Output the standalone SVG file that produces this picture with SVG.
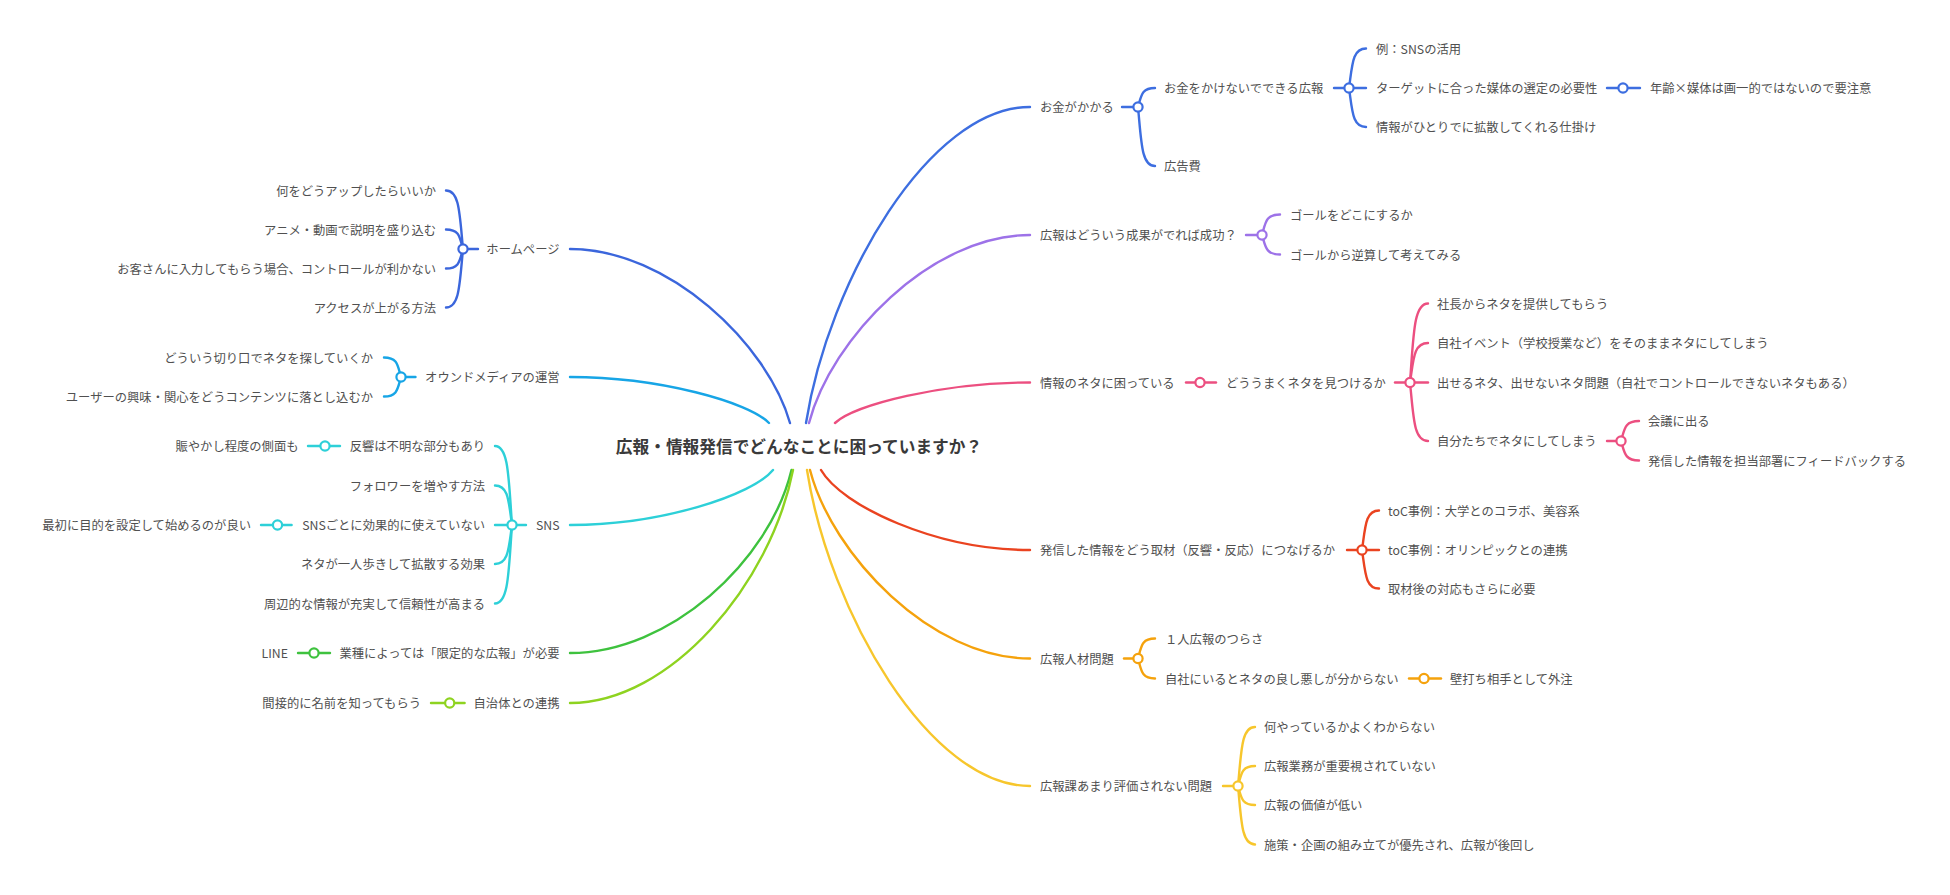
<svg xmlns="http://www.w3.org/2000/svg" width="1950" height="895" viewBox="0 0 1950 895">
<style>
text{font-family:"Noto Sans CJK JP","Noto Sans",sans-serif;font-size:12.3px;fill:#505050;dominant-baseline:central}
.l{text-anchor:end}
.title{font-size:16.7px;font-weight:bold;fill:#3a3a3a;text-anchor:middle}
path{fill:none;stroke-width:2.4;stroke-linecap:round}
circle{fill:#fff;stroke-width:2.2}
.blue{stroke:#3d6ee0}.purple{stroke:#9d72e8}.pink{stroke:#ec4f80}.red{stroke:#ea4320}.orange{stroke:#f5a20c}.yellow{stroke:#f7c62c}
.hblue{stroke:#3b66dc}.sky{stroke:#17a5e6}.cyan{stroke:#2dd0d8}.green{stroke:#3ec23e}.lime{stroke:#8ed320}
</style>
<rect width="1950" height="895" fill="#fff"/>
<g id="connectors">
<!-- main branches -->
<path class="blue" d="M806 423 C828.4 280.8 929.2 107 1030 107"/>
<path class="purple" d="M809 423 C831.1 338.4 930.6 235 1030 235"/>
<path class="pink" d="M835 423 C854.5 404.8 942.3 382.5 1030 382.5"/>
<path class="red" d="M821 470 C841.9 506 936 550 1030 550"/>
<path class="orange" d="M810 470 C832 554.8 931 658.5 1030 658.5"/>
<path class="yellow" d="M807 470 C829.3 612.2 929.7 786 1030 786"/>
<path class="hblue" d="M790 423 C768 344.7 669 249 570 249"/>
<path class="sky" d="M769 423 C749.1 402.3 659.6 377 570 377"/>
<path class="cyan" d="M773 470 C752.7 495 661.4 525 570 525"/>
<path class="green" d="M791.5 470 C769.4 561.5 669.7 653 570 653"/>
<path class="lime" d="M793 470 C770.7 584 670.4 703 570 703"/>
<!-- A -->
<path class="blue" d="M1122 107 H1138"/>
<path class="blue" d="M1138 107 C1141.4 95.6 1141.4 88 1155 88"/>
<path class="blue" d="M1138 107 C1141.4 142.4 1141.4 166 1155 166"/>
<path class="blue" d="M1334 88 H1349"/>
<path class="blue" d="M1349 88 C1352.4 64.3 1352.4 48.5 1366 48.5"/>
<path class="blue" d="M1349 88 H1366"/>
<path class="blue" d="M1349 88 C1352.4 111.4 1352.4 127 1366 127"/>
<path class="blue" d="M1607 88 H1640"/>
<!-- B -->
<path class="purple" d="M1246 235 H1262"/>
<path class="purple" d="M1262 235 C1265.6 222.7 1265.6 214.5 1280 214.5"/>
<path class="purple" d="M1262 235 C1265.6 246.7 1265.6 254.5 1280 254.5"/>
<!-- C -->
<path class="pink" d="M1186 382.5 H1216"/>
<path class="pink" d="M1395 382.5 H1410"/>
<path class="pink" d="M1410 382.5 C1413.6 335.1 1413.6 303.5 1428 303.5"/>
<path class="pink" d="M1410 382.5 C1413.6 358.8 1413.6 343 1428 343"/>
<path class="pink" d="M1410 382.5 H1428"/>
<path class="pink" d="M1410 382.5 C1413.6 417.6 1413.6 441 1428 441"/>
<path class="pink" d="M1607 441 H1621"/>
<path class="pink" d="M1621 441 C1624.6 429 1624.6 421 1639 421"/>
<path class="pink" d="M1621 441 C1624.6 452.7 1624.6 460.5 1639 460.5"/>
<!-- D -->
<path class="red" d="M1347 550 H1362"/>
<path class="red" d="M1362 550 C1365.4 526.3 1365.4 510.5 1379 510.5"/>
<path class="red" d="M1362 550 H1379"/>
<path class="red" d="M1362 550 C1365.4 573.1 1365.4 588.5 1379 588.5"/>
<!-- E -->
<path class="orange" d="M1124 658.5 H1138"/>
<path class="orange" d="M1138 658.5 C1141.4 646.5 1141.4 638.5 1155 638.5"/>
<path class="orange" d="M1138 658.5 C1141.4 670.5 1141.4 678.5 1155 678.5"/>
<path class="orange" d="M1409 678.5 H1441"/>
<!-- F -->
<path class="yellow" d="M1223 786 H1238"/>
<path class="yellow" d="M1238 786 C1241.4 750.6 1241.4 727 1255 727"/>
<path class="yellow" d="M1238 786 C1241.4 774 1241.4 766 1255 766"/>
<path class="yellow" d="M1238 786 C1241.4 797.4 1241.4 805 1255 805"/>
<path class="yellow" d="M1238 786 C1241.4 820.9 1241.4 844.5 1255 844.5"/>
<!-- G -->
<path class="hblue" d="M478 249 H463"/>
<path class="hblue" d="M463 249 C459.6 213.9 459.6 190.5 446 190.5"/>
<path class="hblue" d="M463 249 C459.6 237.3 459.6 229.5 446 229.5"/>
<path class="hblue" d="M463 249 C459.6 260.7 459.6 268.5 446 268.5"/>
<path class="hblue" d="M463 249 C459.6 284.1 459.6 307.5 446 307.5"/>
<!-- H -->
<path class="sky" d="M415.5 377 H401"/>
<path class="sky" d="M401 377 C397.6 365.3 397.6 357.5 384 357.5"/>
<path class="sky" d="M401 377 C397.6 388.7 397.6 396.5 384 396.5"/>
<!-- I -->
<path class="cyan" d="M526 525 H512"/>
<path class="cyan" d="M512 525 C508.6 477.6 508.6 446 495 446"/>
<path class="cyan" d="M512 525 C508.6 501.3 508.6 485.5 495 485.5"/>
<path class="cyan" d="M512 525 H495"/>
<path class="cyan" d="M512 525 C508.6 548.4 508.6 564 495 564"/>
<path class="cyan" d="M512 525 C508.6 572.1 508.6 603.5 495 603.5"/>
<path class="cyan" d="M340 446 H308"/>
<path class="cyan" d="M291.6 525 H261"/>
<!-- J, K -->
<path class="green" d="M330 653 H298"/>
<path class="lime" d="M464.6 703 H431"/>
</g>
<g id="center"><text class="title" x="799" y="446">広報・情報発信でどんなことに困っていますか？</text></g>
<g id="n-okane"><circle class="blue" cx="1138" cy="107" r="4.6"/><text x="1040" y="107">お金がかかる</text></g>
<g id="n-okane-1"><circle class="blue" cx="1349" cy="88" r="4.6"/><text x="1164" y="88">お金をかけないでできる広報</text></g>
<g id="n-okane-1a"><text x="1376" y="48.5">例：SNSの活用</text></g>
<g id="n-okane-1b"><circle class="blue" cx="1623" cy="88" r="4.6"/><text x="1376" y="88">ターゲットに合った媒体の選定の必要性</text></g>
<g id="n-okane-1b1"><text x="1650" y="88">年齢×媒体は画一的ではないので要注意</text></g>
<g id="n-okane-1c"><text x="1376" y="127">情報がひとりでに拡散してくれる仕掛け</text></g>
<g id="n-okane-2"><text x="1164" y="166">広告費</text></g>
<g id="n-seika"><circle class="purple" cx="1262" cy="235" r="4.6"/><text x="1040" y="235">広報はどういう成果がでれば成功？</text></g>
<g id="n-seika-1"><text x="1290" y="214.5">ゴールをどこにするか</text></g>
<g id="n-seika-2"><text x="1290" y="254.5">ゴールから逆算して考えてみる</text></g>
<g id="n-neta"><circle class="pink" cx="1200" cy="382.5" r="4.6"/><text x="1040" y="382.5">情報のネタに困っている</text></g>
<g id="n-neta-1"><circle class="pink" cx="1410" cy="382.5" r="4.6"/><text x="1226" y="382.5">どううまくネタを見つけるか</text></g>
<g id="n-neta-1a"><text x="1437" y="303.5">社長からネタを提供してもらう</text></g>
<g id="n-neta-1b"><text x="1437" y="343">自社イベント（学校授業など）をそのままネタにしてしまう</text></g>
<g id="n-neta-1c"><text x="1437" y="382.5">出せるネタ、出せないネタ問題（自社でコントロールできないネタもある）</text></g>
<g id="n-neta-1d"><circle class="pink" cx="1621" cy="441" r="4.6"/><text x="1437" y="441">自分たちでネタにしてしまう</text></g>
<g id="n-neta-1d1"><text x="1648" y="421">会議に出る</text></g>
<g id="n-neta-1d2"><text x="1648" y="460.5">発信した情報を担当部署にフィードバックする</text></g>
<g id="n-shuzai"><circle class="red" cx="1362" cy="550" r="4.6"/><text x="1040" y="550">発信した情報をどう取材（反響・反応）につなげるか</text></g>
<g id="n-shuzai-1"><text x="1388" y="510.5">toC事例：大学とのコラボ、美容系</text></g>
<g id="n-shuzai-2"><text x="1388" y="550">toC事例：オリンピックとの連携</text></g>
<g id="n-shuzai-3"><text x="1388" y="588.5">取材後の対応もさらに必要</text></g>
<g id="n-jinzai"><circle class="orange" cx="1138" cy="658.5" r="4.6"/><text x="1040" y="658.5">広報人材問題</text></g>
<g id="n-jinzai-1"><text x="1165" y="638.5">１人広報のつらさ</text></g>
<g id="n-jinzai-2"><circle class="orange" cx="1424" cy="678.5" r="4.6"/><text x="1165" y="678.5">自社にいるとネタの良し悪しが分からない</text></g>
<g id="n-jinzai-2a"><text x="1450" y="678.5">壁打ち相手として外注</text></g>
<g id="n-hyoka"><circle class="yellow" cx="1238" cy="786" r="4.6"/><text x="1040" y="786">広報課あまり評価されない問題</text></g>
<g id="n-hyoka-1"><text x="1264" y="727">何やっているかよくわからない</text></g>
<g id="n-hyoka-2"><text x="1264" y="766">広報業務が重要視されていない</text></g>
<g id="n-hyoka-3"><text x="1264" y="805">広報の価値が低い</text></g>
<g id="n-hyoka-4"><text x="1264" y="844.5">施策・企画の組み立てが優先され、広報が後回し</text></g>
<g id="n-hp"><circle class="hblue" cx="463" cy="249" r="4.6"/><text class="l" x="559.5" y="249">ホームページ</text></g>
<g id="n-hp-1"><text class="l" x="436" y="190.5">何をどうアップしたらいいか</text></g>
<g id="n-hp-2"><text class="l" x="436" y="229.5">アニメ・動画で説明を盛り込む</text></g>
<g id="n-hp-3"><text class="l" x="436" y="268.5">お客さんに入力してもらう場合、コントロールが利かない</text></g>
<g id="n-hp-4"><text class="l" x="436" y="307.5">アクセスが上がる方法</text></g>
<g id="n-owned"><circle class="sky" cx="401" cy="377" r="4.6"/><text class="l" x="559.5" y="377">オウンドメディアの運営</text></g>
<g id="n-owned-1"><text class="l" x="373" y="357.5">どういう切り口でネタを探していくか</text></g>
<g id="n-owned-2"><text class="l" x="373" y="396.5">ユーザーの興味・関心をどうコンテンツに落とし込むか</text></g>
<g id="n-sns"><circle class="cyan" cx="512" cy="525" r="4.6"/><text class="l" x="559.5" y="525">SNS</text></g>
<g id="n-sns-1"><circle class="cyan" cx="325" cy="446" r="4.6"/><text class="l" x="485" y="446">反響は不明な部分もあり</text></g>
<g id="n-sns-1a"><text class="l" x="298.5" y="446">賑やかし程度の側面も</text></g>
<g id="n-sns-2"><text class="l" x="485" y="485.5">フォロワーを増やす方法</text></g>
<g id="n-sns-3"><circle class="cyan" cx="277.5" cy="525" r="4.6"/><text class="l" x="485" y="525">SNSごとに効果的に使えていない</text></g>
<g id="n-sns-3a"><text class="l" x="251" y="525">最初に目的を設定して始めるのが良い</text></g>
<g id="n-sns-4"><text class="l" x="485" y="564">ネタが一人歩きして拡散する効果</text></g>
<g id="n-sns-5"><text class="l" x="485" y="603.5">周辺的な情報が充実して信頼性が高まる</text></g>
<g id="n-gyoshu"><circle class="green" cx="314" cy="653" r="4.6"/><text class="l" x="559.5" y="653">業種によっては「限定的な広報」が必要</text></g>
<g id="n-gyoshu-1"><text class="l" x="288" y="653">LINE</text></g>
<g id="n-jichitai"><circle class="lime" cx="449.7" cy="703" r="4.6"/><text class="l" x="559.5" y="703">自治体との連携</text></g>
<g id="n-jichitai-1"><text class="l" x="421" y="703">間接的に名前を知ってもらう</text></g>
</svg>
